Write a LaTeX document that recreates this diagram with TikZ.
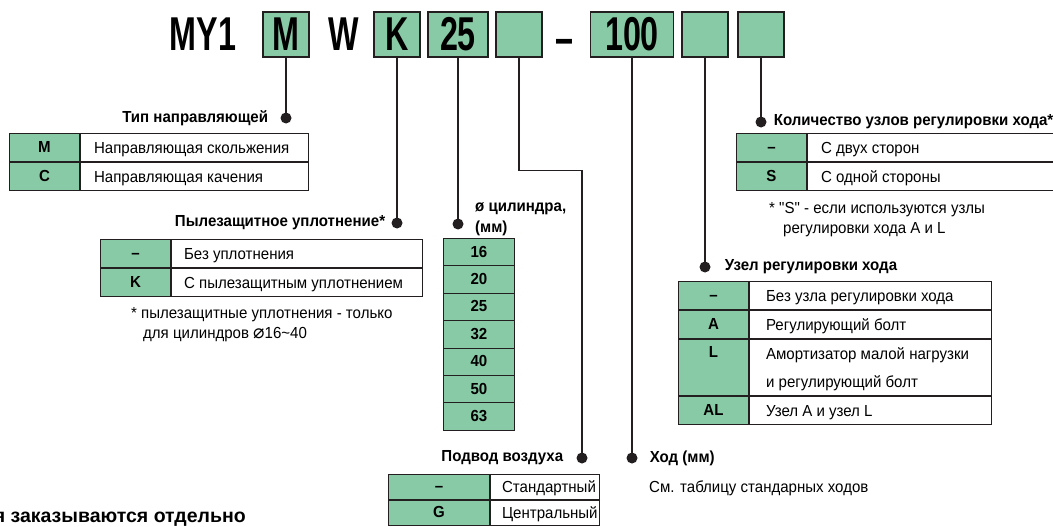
\documentclass[tikz,border=0pt]{standalone}
\usepackage{fontspec}
\setmainfont{Liberation Sans}[FakeStretch=0.94, Ligatures=TeXOff]
\newfontfamily\boldcond{Liberation Sans}[FakeStretch=0.94]
\newfontfamily\boldwide{Liberation Sans}
\newfontfamily\headcond{Liberation Sans}[FakeStretch=0.68]
\newfontfamily\symfont{DejaVu Sans}
\usetikzlibrary{positioning}
\definecolor{keygreen}{HTML}{88CAA6}
\definecolor{ink}{HTML}{231F20}
\tikzset{
  codebox/.style={draw=ink, fill=keygreen, line width=1.2pt, minimum width=46, minimum height=45, inner sep=0, font=\headcond\bfseries\fontsize{47.5}{48}\selectfont},
  headtext/.style={inner sep=0, font=\headcond\bfseries\fontsize{47.5}{48}\selectfont},
  keycell/.style={draw=ink, fill=keygreen, line width=0.9pt, inner sep=0, minimum width=70, minimum height=28, text height=11.5, text depth=1.5, font=\boldcond\bfseries\fontsize{16}{18}\selectfont},
  textcell/.style={draw=ink, fill=white, line width=0.9pt, inner sep=0, minimum height=28},
  celltext/.style={anchor=base west, inner sep=0, font=\fontsize{16}{18}\selectfont},
  title/.style={inner sep=0, font=\boldcond\bfseries\fontsize{16}{18}\selectfont},
  lead/.style={draw=ink, line width=1.1pt},
  dot/.style={circle, fill=ink, inner sep=0, minimum size=11},
}
\begin{document}
\begin{tikzpicture}[x=1pt,y=-1pt]
\useasboundingbox (0,0) rectangle (1053,527);

% order code
\node[headtext] (my) at (203,34.5) {MY1};
\node[codebox] (cM) at (286,34.5) {M};
\node[headtext] (w) at (344,34.5) {W};
\node[codebox] (cK) at (397,34.5) {K};
\node[codebox, minimum width=60] (cD) at (458,34.5) {25};
\node[codebox] (cG) at (519,34.5) {};
\node[headtext, anchor=base] (dash) at (564,55) {–};
\node[codebox, minimum width=83] (cS) at (632,34.5) {100};
\node[codebox] (cA) at (705,34.5) {};
\node[codebox] (cN) at (761,34.5) {};

% dots and leaders
\node[dot] (dM) at (286,118) {};
\node[dot] (dK) at (397,223) {};
\node[dot] (dD) at (458,224) {};
\node[dot] (dG) at (582,458) {};
\node[dot] (dS) at (632,458) {};
\node[dot] (dA) at (705,267) {};
\node[dot] (dN) at (761,122) {};
\draw[lead] (cM.south) -- (dM.center);
\draw[lead] (cK.south) -- (dK.center);
\draw[lead] (cD.south) -- (dD.center);
\draw[lead] (cG.south) -- ++(0,113) -| (dG.center);
\draw[lead] (cS.south) -- (dS.center);
\draw[lead] (cA.south) -- (dA.center);
\draw[lead] (cN.south) -- (dN.center);

% guide type
\node[title, left=12pt of dM] (tM) {Тип направляющей};
\node[keycell, anchor=north west] (gM) at (9,133) {M};
\node[textcell, minimum width=228, right=0pt of gM] (gMt) {};
\node[keycell, below=0pt of gM] (gC) {C};
\node[textcell, minimum width=228, right=0pt of gC] (gCt) {};
\node[celltext] (gMl) at ([xshift=14pt,yshift=-6.5pt]gMt.west) {Направляющая скольжения};
\node[celltext] (gCl) at ([xshift=14pt,yshift=-6.5pt]gCt.west) {Направляющая качения};

% scraper
\node[title, left=6pt of dK] (tK) {Пылезащитное уплотнение*};
\node[keycell, anchor=north west] (sN) at (100,239) {–};
\node[textcell, minimum width=251, right=0pt of sN] (sNt) {};
\node[keycell, below=0pt of sN] (sK) {K};
\node[textcell, minimum width=251, right=0pt of sK] (sKt) {};
\node[celltext] (sNl) at ([xshift=13pt,yshift=-6.5pt]sNt.west) {Без уплотнения};
\node[celltext] (sKl) at ([xshift=13pt,yshift=-6.5pt]sKt.west) {С пылезащитным уплотнением};
\node[celltext] (sn1) at (131,318) {* пылезащитные уплотнения - только};
\node[celltext] (sn2) at (143,338) {для цилиндров {\symfont\fontsize{19}{18}\selectfont ⌀}16\textasciitilde40};

% bore
\node[title, anchor=base west] (tD1) at (475,211) {ø цилиндра,};
\node[title, anchor=base west] (tD2) at (475,232) {(мм)};
\foreach \d [count=\i] in {16,20,25,32,40,50,63}
  \node[keycell, minimum width=71, minimum height=27.4, anchor=north west] (b\d) at (443,{238+27.4*(\i-1)}) {\d};

% port
\node[title, left=13pt of dG] (tG) {Подвод воздуха};
\node[keycell, minimum width=101, minimum height=25, anchor=north west] (pN) at (388,474) {–};
\node[textcell, minimum width=109, minimum height=25, right=0pt of pN] (pNt) {};
\node[keycell, minimum width=101, minimum height=25, below=0pt of pN] (pG) {G};
\node[textcell, minimum width=109, minimum height=25, right=0pt of pG] (pGt) {};
\node[celltext] (pNl) at ([xshift=12pt,yshift=-6pt]pNt.west) {Стандартный};
\node[celltext] (pGl) at ([xshift=12pt,yshift=-6pt]pGt.west) {Центральный};

% stroke
\node[title, right=12pt of dS] (tS) {Ход (мм)};
\node[celltext] (sS) at (649,492) {См. таблицу стандарных ходов};

% stroke adjusting unit
\node[title, right=14pt of dA] (tA) {Узел регулировки хода};
\node[keycell, anchor=north west] (uN) at (678,281) {–};
\node[textcell, minimum width=242, right=0pt of uN] (uNt) {};
\node[keycell, below=0pt of uN] (uA) {A};
\node[textcell, minimum width=242, right=0pt of uA] (uAt) {};
\node[keycell, minimum height=56, below=0pt of uA] (uL) {};
\node[textcell, minimum width=242, minimum height=56, right=0pt of uL] (uLt) {};
\node[keycell, below=0pt of uL] (uAL) {AL};
\node[textcell, minimum width=242, right=0pt of uAL] (uALt) {};
\node[keycell, draw=none, fill=none, minimum height=0] (uLk) at ([yshift=-14pt]uL.north) {L};
\node[celltext] (uNl) at ([xshift=17pt,yshift=-6.5pt]uNt.west) {Без узла регулировки хода};
\node[celltext] (uAl) at ([xshift=17pt,yshift=-6.5pt]uAt.west) {Регулирующий болт};
\node[celltext] (uLl1) at ([xshift=17pt,yshift=-20.5pt]uLt.north west) {Амортизатор малой нагрузки};
\node[celltext] (uLl2) at ([xshift=17pt,yshift=-48.5pt]uLt.north west) {и регулирующий болт};
\node[celltext] (uALl) at ([xshift=17pt,yshift=-6.5pt]uALt.west) {Узел A и узел L};

% number of units
\node[title, right=7pt of dN] (tN) {Количество узлов регулировки хода*};
\node[keycell, anchor=north west] (nN) at (736,133) {–};
\node[textcell, minimum width=270, right=0pt of nN] (nNt) {};
\node[keycell, below=0pt of nN] (nS) {S};
\node[textcell, minimum width=270, right=0pt of nS] (nSt) {};
\node[celltext] (nNl) at ([xshift=14pt,yshift=-6.5pt]nNt.west) {С двух сторон};
\node[celltext] (nSl) at ([xshift=14pt,yshift=-6.5pt]nSt.west) {С одной стороны};
\node[celltext] (nn1) at (769,213) {* "S" - если используются узлы};
\node[celltext] (nn2) at (783,233) {регулировки хода A и L};

% cut off note
\node[title, anchor=base east, font=\boldwide\bfseries\fontsize{19.5}{20}\selectfont] (foot) at (246,522) {я заказываются отдельно};
\end{tikzpicture}
\end{document}
